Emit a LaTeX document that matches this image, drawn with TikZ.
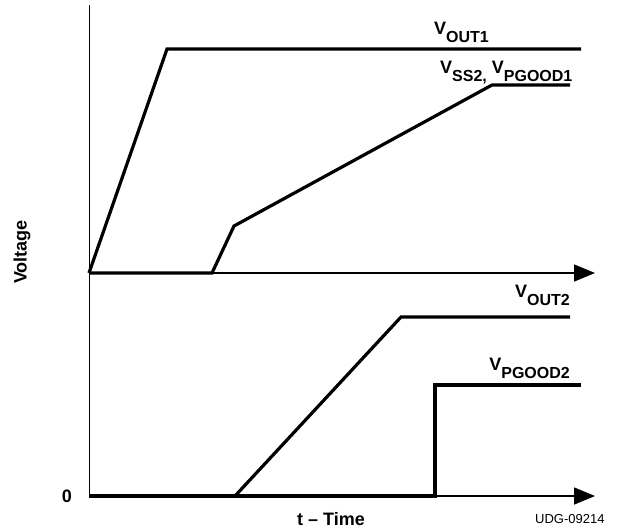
\documentclass[tikz,border=0pt]{standalone}
\usepackage{fontspec}
\setmainfont{Liberation Sans}
\usetikzlibrary{positioning,arrows.meta}
\newcommand{\vsub}[1]{V\raisebox{-8pt}{\fontsize{16}{18}\selectfont #1}}

\begin{document}
\begin{tikzpicture}[x=1pt,y=-1pt,
  signal/.style={line width=3.2pt},
  axis/.style={line width=1.5pt,-{Triangle[length=21pt,width=17pt]}},
  vlabel/.style={font=\bfseries\fontsize{18}{21}\selectfont,inner sep=0pt},
  tlabel/.style={font=\bfseries\fontsize{18}{21}\selectfont,inner sep=0pt}]
  \useasboundingbox (0,0) rectangle (624,531);

  % axes
  \coordinate (top) at (89,5);
  \coordinate (o1) at (89,273);
  \coordinate (o2) at (89,496);
  \coordinate (e1) at (595,273);
  \coordinate (e2) at (595,496);
  \draw[line width=1pt] (top) -- (o2);
  \draw[axis] (o1) -- (e1);
  \draw[axis] (o2) -- (e2);

  % upper traces
  \coordinate (out1a) at (167,49);
  \coordinate (out1b) at (581,49);
  \coordinate (ss2a) at (212,273);
  \coordinate (ss2b) at (234,226);
  \coordinate (ss2c) at (492,85);
  \coordinate (ss2d) at (570,85);
  \draw[signal] (o1) -- (out1a) -- (out1b);
  \draw[signal] (o1) -- (ss2a) -- (ss2b) -- (ss2c) -- (ss2d);

  % lower traces
  \coordinate (out2a) at (235,496);
  \coordinate (out2b) at (401,317);
  \coordinate (out2c) at (570,317);
  \coordinate (pg2a) at (435,496);
  \coordinate (pg2b) at (435,385);
  \coordinate (pg2c) at (581,385);
  \draw[signal] (o2) -- (pg2a) -- (pg2b) -- (pg2c);
  \draw[signal] (out2a) -- (out2b) -- (out2c);

  % labels
  \node[vlabel,anchor=base west] (lout1) at (434,34) {\vsub{OUT1}};
  \node[vlabel,anchor=base west] (lss2) at (440,73) {\vsub{SS2,} \vsub{PGOOD1}};
  \node[vlabel,anchor=base east] (lout2) at (570,297) {\vsub{OUT2}};
  \node[vlabel,anchor=base east] (lpg2) at (570,370) {\vsub{PGOOD2}};
  \node[tlabel,rotate=90] (volt) at (22,252) {Voltage};
  \node[tlabel] (zero) at (67,496) {0};
  \node[tlabel,anchor=base west] (time) at (297,525) {t -- Time};
  \node[font=\fontsize{13}{15}\selectfont,inner sep=0pt,anchor=base west] (udg) at (535,523) {UDG-09214};
\end{tikzpicture}
\end{document}
